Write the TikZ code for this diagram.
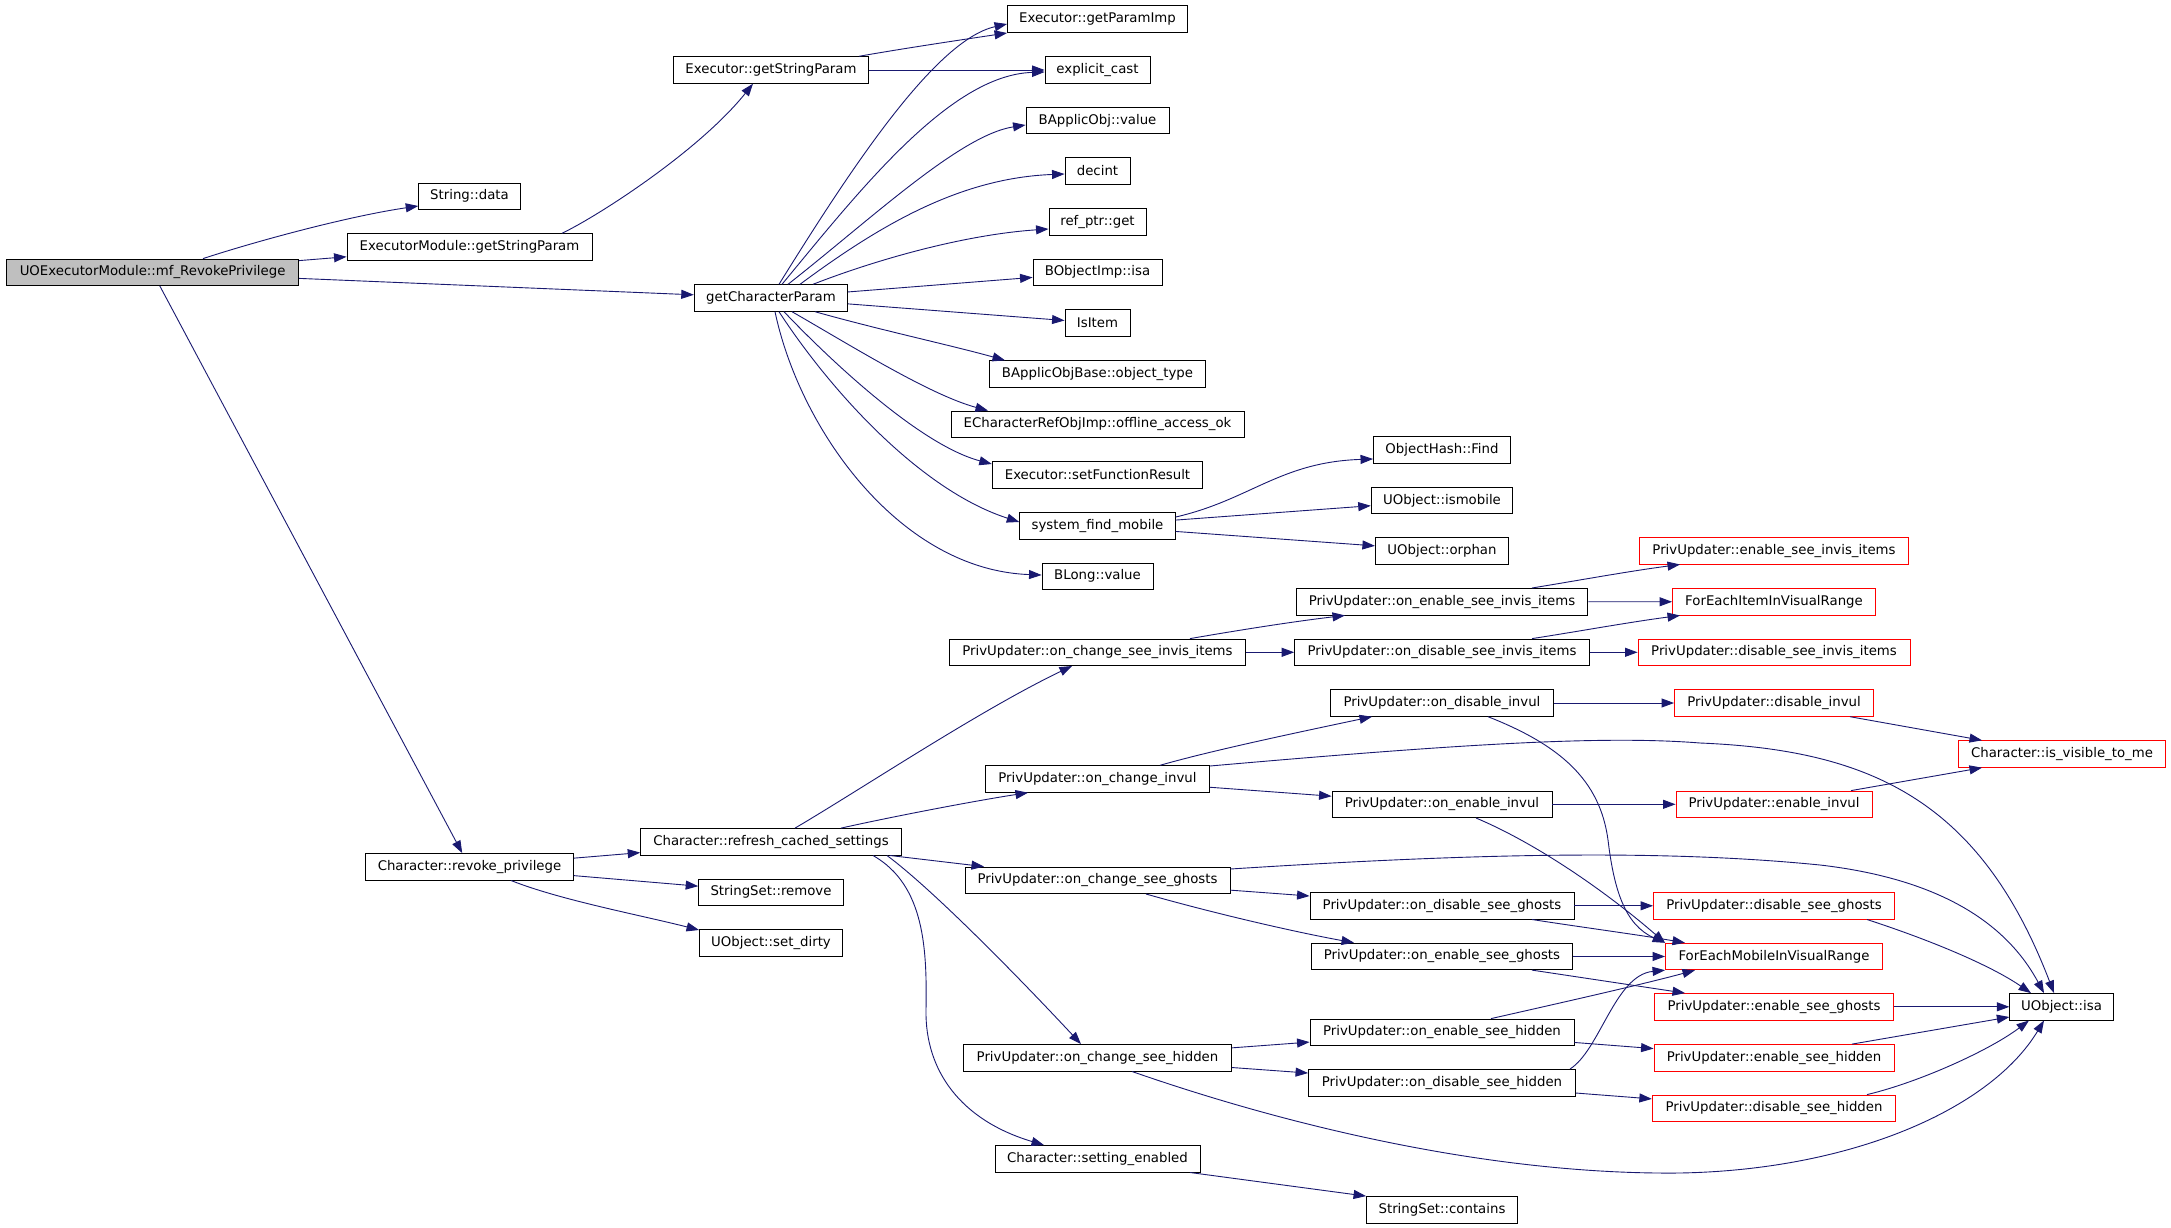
\documentclass[tikz,border=0pt]{standalone}
\usepackage{fontspec}
\setmainfont{DejaVu Sans}
\usetikzlibrary{arrows.meta}
\definecolor{edgec}{HTML}{191970}
\definecolor{grayfill}{HTML}{BFBFBF}
\begin{document}
\begin{tikzpicture}[x=1pt,y=-1pt,
  box/.style={draw=black, line width=0.9pt, minimum height=26.5pt, inner sep=0pt, fill=white,
    font=\fontsize{13.3pt}{15pt}\selectfont},
  redbox/.style={box, draw=red},
  call/.style={draw=edgec, line width=0.9pt, -{Triangle[length=12.5pt,width=9pt]}}]
\useasboundingbox[fill=white] (0,0) rectangle (2171,1228);

% column 0 / 1 / 2
\node[box, minimum width=292pt, fill=grayfill] (A) at (152.6,272.3) {UOExecutorModule::mf\_RevokePrivilege};
\node[box, minimum width=101.6pt] (sdata) at (469.5,196.3) {String::data};
\node[box, minimum width=245pt] (emgsp) at (469.5,247) {ExecutorModule::getStringParam};
\node[box, minimum width=208pt] (revoke) at (469.5,866.8) {Character::revoke\_privilege};
\node[box, minimum width=195.4pt] (egsp) at (771,70) {Executor::getStringParam};
\node[box, minimum width=153.5pt] (gcp) at (771,298) {getCharacterParam};
\node[box, minimum width=260.6pt] (refresh) at (771,841.8) {Character::refresh\_cached\_settings};
\node[box, minimum width=144.7pt] (ssremove) at (771,892.3) {StringSet::remove};
\node[box, minimum width=143pt] (setdirty) at (771,942.8) {UObject::set\_dirty};

% column 3
\node[box, minimum width=180pt] (gpi) at (1097.5,18.8) {Executor::getParamImp};
\node[box, minimum width=105pt] (ecast) at (1097.5,70) {explicit\_cast};
\node[box, minimum width=143pt] (bav) at (1097.5,120.7) {BApplicObj::value};
\node[box, minimum width=65pt] (decint) at (1097.5,171) {decint};
\node[box, minimum width=97pt] (refget) at (1097.5,222) {ref\_ptr::get};
\node[box, minimum width=129pt] (boisa) at (1097.5,272.3) {BObjectImp::isa};
\node[box, minimum width=65pt] (isitem) at (1097.5,323) {IsItem};
\node[box, minimum width=216pt] (otype) at (1097.5,374) {BApplicObjBase::object\_type};
\node[box, minimum width=293pt] (offl) at (1097.5,424.3) {ECharacterRefObjImp::offline\_access\_ok};
\node[box, minimum width=210.5pt] (sfr) at (1097.5,474.8) {Executor::setFunctionResult};
\node[box, minimum width=155.5pt] (sfm) at (1097.5,525.8) {system\_find\_mobile};
\node[box, minimum width=111pt] (blong) at (1097.5,576.3) {BLong::value};
\node[box, minimum width=296pt] (ocsii) at (1097.5,652.3) {PrivUpdater::on\_change\_see\_invis\_items};
\node[box, minimum width=224pt] (ocinv) at (1097.5,779) {PrivUpdater::on\_change\_invul};
\node[box, minimum width=265pt] (ocsg) at (1097.5,880.3) {PrivUpdater::on\_change\_see\_ghosts};
\node[box, minimum width=268pt] (ocsh) at (1097.5,1057.8) {PrivUpdater::on\_change\_see\_hidden};
\node[box, minimum width=205pt] (setenabled) at (1097.5,1158.8) {Character::setting\_enabled};

% column 4
\node[box, minimum width=137pt] (ohfind) at (1442,450) {ObjectHash::Find};
\node[box, minimum width=141.6pt] (ismobile) at (1442,500.5) {UObject::ismobile};
\node[box, minimum width=133.3pt] (orphan) at (1442,550.7) {UObject::orphan};
\node[box, minimum width=291.8pt] (oesii) at (1442,601.7) {PrivUpdater::on\_enable\_see\_invis\_items};
\node[box, minimum width=294.7pt] (odsii) at (1442,652.3) {PrivUpdater::on\_disable\_see\_invis\_items};
\node[box, minimum width=222.8pt] (odinv) at (1442,703) {PrivUpdater::on\_disable\_invul};
\node[box, minimum width=220pt] (oeinv) at (1442,804.3) {PrivUpdater::on\_enable\_invul};
\node[box, minimum width=264pt] (odsg) at (1442,905.8) {PrivUpdater::on\_disable\_see\_ghosts};
\node[box, minimum width=261.4pt] (oesg) at (1442,956.4) {PrivUpdater::on\_enable\_see\_ghosts};
\node[box, minimum width=264pt] (oesh) at (1442,1032.3) {PrivUpdater::on\_enable\_see\_hidden};
\node[box, minimum width=267pt] (odsh) at (1442,1082.7) {PrivUpdater::on\_disable\_see\_hidden};
\node[box, minimum width=151pt] (sscontains) at (1442,1209.8) {StringSet::contains};

% column 5
\node[redbox, minimum width=269pt] (esii) at (1774,550.8) {PrivUpdater::enable\_see\_invis\_items};
\node[redbox, minimum width=203pt] (feii) at (1774,601.8) {ForEachItemInVisualRange};
\node[redbox, minimum width=272pt] (dsii) at (1774,652.3) {PrivUpdater::disable\_see\_invis\_items};
\node[redbox, minimum width=199pt] (dinv) at (1774,703) {PrivUpdater::disable\_invul};
\node[redbox, minimum width=196pt] (einv) at (1774,804.3) {PrivUpdater::enable\_invul};
\node[redbox, minimum width=241pt] (dsg) at (1774,905.8) {PrivUpdater::disable\_see\_ghosts};
\node[redbox, minimum width=217pt] (femv) at (1774,956.5) {ForEachMobileInVisualRange};
\node[redbox, minimum width=239pt] (esg) at (1774,1006.8) {PrivUpdater::enable\_see\_ghosts};
\node[redbox, minimum width=240pt] (esh) at (1774,1057.8) {PrivUpdater::enable\_see\_hidden};
\node[redbox, minimum width=243.4pt] (dsh) at (1774,1108.3) {PrivUpdater::disable\_see\_hidden};

% column 6
\node[redbox, minimum width=207pt] (ivtm) at (2062,754) {Character::is\_visible\_to\_me};
\node[box, minimum width=103.4pt] (uoisa) at (2061.5,1006.8) {UObject::isa};

% ---- connectors ----
\draw[call] (A.north -| 203,0) .. controls (260,240) and (350,216) .. (sdata.west |- 0,206);
\draw[call] (A) -- (emgsp);
\draw[call] (A) -- (gcp);
\draw[call] (A) -- (revoke);

\draw[call] (emgsp.north -| 562,0) .. controls (600,215) and (700,150) .. (egsp.south -| 753,0);
\draw[call] (egsp.north -| 859,0) .. controls (900,49) and (960,40) .. (gpi.west |- 0,33);
\draw[call] (egsp) -- (ecast);

\draw[call] (gcp.north -| 779,0) .. controls (850,170) and (935,40) .. (gpi.west |- 0,24);
\draw[call] (gcp.north -| 782,0) .. controls (860,190) and (950,75) .. (ecast.west |- 0,72);
\draw[call] (gcp.north -| 788,0) .. controls (870,220) and (960,135) .. (bav.west |- 0,125);
\draw[call] (gcp.north -| 800,0) .. controls (880,225) and (960,178) .. (decint.west |- 0,174);
\draw[call] (gcp.north -| 813,0) .. controls (870,262) and (960,235) .. (refget.west |- 0,229);
\draw[call] (gcp) -- (boisa);
\draw[call] (gcp) -- (isitem);
\draw[call] (gcp.south -| 815,0) .. controls (880,330) and (950,345) .. (otype.north -| 1005,0);
\draw[call] (gcp.south -| 792,0) .. controls (850,345) and (930,395) .. (offl.north -| 988,0);
\draw[call] (gcp.south -| 784,0) .. controls (830,360) and (920,445) .. (sfr.west |- 0,464);
\draw[call] (gcp.south -| 779,0) .. controls (830,390) and (920,490) .. (sfm.west |- 0,522);
\draw[call] (gcp.south -| 775,0) .. controls (800,430) and (900,570) .. (blong.west |- 0,575);

\draw[call] (sfm.east |- 0,517) .. controls (1250,500) and (1280,462) .. (ohfind.west |- 0,459);
\draw[call] (sfm) -- (ismobile);
\draw[call] (sfm) -- (orphan);

\draw[call] (ocsii.north -| 1190,0) .. controls (1240,630) and (1290,622) .. (oesii.south -| 1345,0);
\draw[call] (ocsii) -- (odsii);
\draw[call] (oesii.north -| 1532,0) .. controls (1575,581) and (1630,571) .. (esii.south -| 1680,0);
\draw[call] (oesii) -- (feii);
\draw[call] (odsii.north -| 1532,0) .. controls (1575,632) and (1630,622) .. (feii.south -| 1680,0);
\draw[call] (odsii) -- (dsii);

\draw[call] (ocinv.north -| 1160,0) .. controls (1210,751) and (1290,734) .. (odinv.south -| 1372,0);
\draw[call] (ocinv) -- (oeinv);
\draw[call] (ocinv.east |- 0,766) .. controls (1450,745) and (1600,735) .. (1700,743)
   .. controls (1870,750) and (1980,800) .. (uoisa.north -| 2054,0);
\draw[call] (odinv) -- (dinv);
\draw[call] (odinv.south -| 1488,0) .. controls (1560,745) and (1600,780) .. (1608,840)
   .. controls (1614,890) and (1625,925) .. (femv.north west);
\draw[call] (oeinv) -- (einv);
\draw[call] (oeinv.south -| 1476,0) .. controls (1540,845) and (1610,895) .. (femv.north west);
\draw[call] (dinv.south -| 1850,0) -- (ivtm.north -| 1982,0);
\draw[call] (einv.north -| 1851,0) -- (ivtm.south -| 1982,0);

\draw[call] (refresh.north -| 795,0) .. controls (860,790) and (980,710) .. (ocsii.south -| 1072,0);
\draw[call] (refresh.north -| 841,0) .. controls (900,815) and (980,800) .. (ocinv.south -| 1028,0);
\draw[call] (refresh.south -| 890,0) -- (ocsg.north -| 984,0);
\draw[call] (refresh.south -| 887,0) .. controls (940,895) and (1040,1000) .. (ocsh.north -| 1081,0);
\draw[call] (refresh.south -| 873,0) .. controls (925,885) and (927,950) .. (926,1010)
   .. controls (925,1070) and (960,1120) .. (setenabled.north -| 1044,0);

\draw[call] (revoke) -- (refresh);
\draw[call] (revoke) -- (ssremove);
\draw[call] (revoke.south -| 511,0) .. controls (560,900) and (640,915) .. (setdirty.west |- 0,930);

\draw[call] (ocsg) -- (odsg);
\draw[call] (ocsg.south -| 1146,0) .. controls (1220,915) and (1300,933) .. (oesg.north -| 1354,0);
\draw[call] (ocsg.east |- 0,869) .. controls (1450,855) and (1650,848) .. (1820,865)
   .. controls (1950,880) and (2010,930) .. (uoisa.north -| 2044,0);
\draw[call] (odsg) -- (dsg);
\draw[call] (odsg.south -| 1532,0) .. controls (1580,927) and (1640,935) .. (femv.north -| 1685,0);
\draw[call] (oesg) -- (femv);
\draw[call] (oesg.south -| 1532,0) -- (esg.north -| 1685,0);
\draw[call] (dsg.south -| 1867,0) .. controls (1930,940) and (1990,965) .. (uoisa.north -| 2031,0);
\draw[call] (esg) -- (uoisa);

\draw[call] (ocsh) -- (oesh);
\draw[call] (ocsh) -- (odsh);
\draw[call] (ocsh.south -| 1132,0) .. controls (1300,1130) and (1500,1175) .. (1680,1173)
   .. controls (1850,1170) and (1990,1110) .. (uoisa.south -| 2044,0);
\draw[call] (oesh.north -| 1491,0) .. controls (1560,1003) and (1640,985) .. (femv.south -| 1695,0);
\draw[call] (oesh) -- (esh);
\draw[call] (odsh.north -| 1570,0) .. controls (1600,1050) and (1615,975) .. (femv.south west);
\draw[call] (odsh) -- (dsh);
\draw[call] (esh.north -| 1852,0) -- (uoisa.west |- 0,1017);
\draw[call] (dsh.north -| 1867,0) .. controls (1920,1082) and (1990,1050) .. (uoisa.south -| 2029,0);
\draw[call] (setenabled.south -| 1190,0) -- (sscontains.north west);
\end{tikzpicture}
\end{document}
